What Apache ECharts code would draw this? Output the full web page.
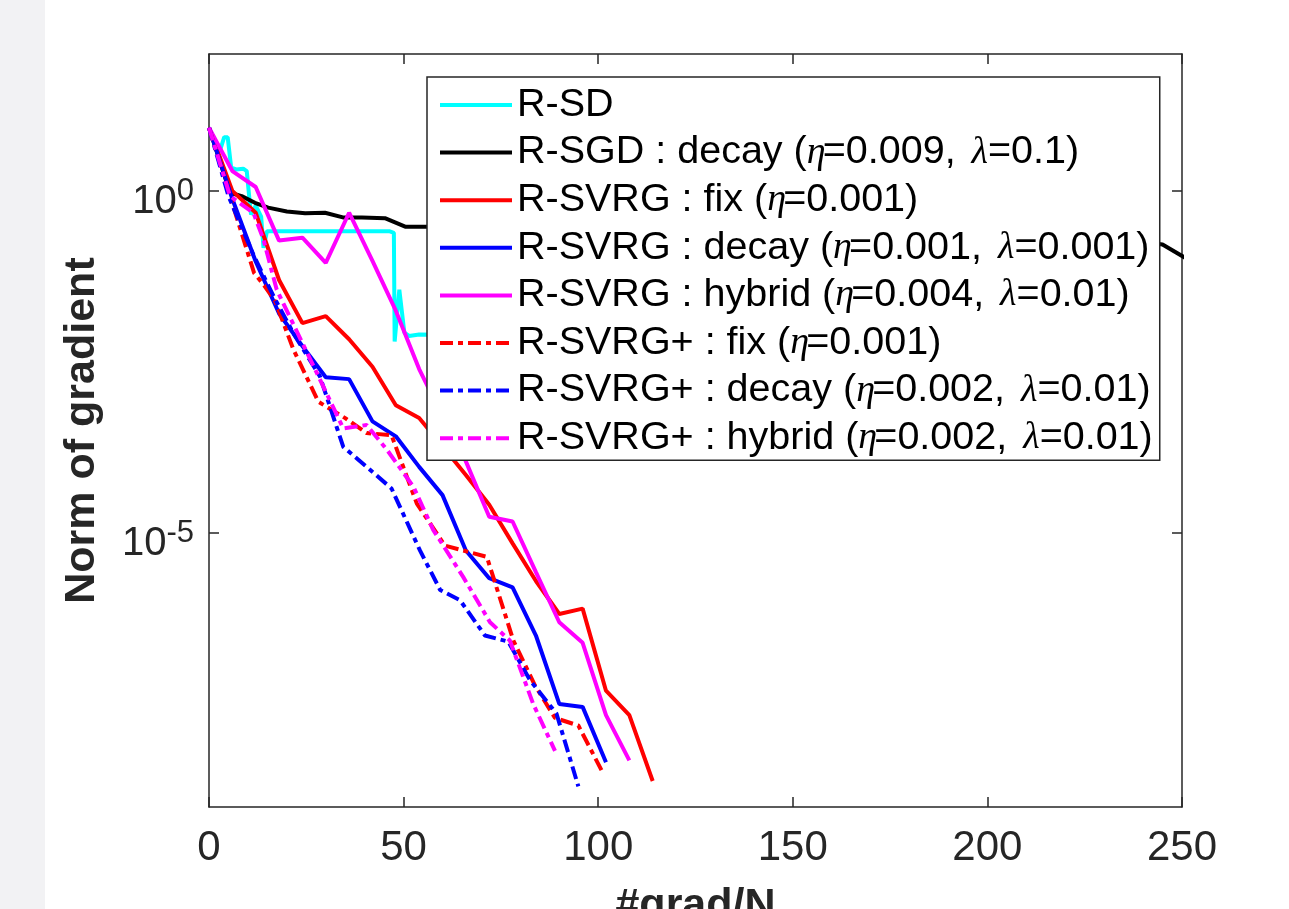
<!DOCTYPE html>
<html>
<head>
<meta charset="utf-8">
<script src="https://cdn.jsdelivr.net/npm/echarts@6/dist/echarts.min.js"></script>
<style>
html,body{margin:0;padding:0;background:#fff;}
#chart{width:1289px;height:909px;}
</style>
</head>
<body>
<div id="chart"></div>
<script>
// ---- data (x = #grad/N, y = norm of gradient) ----
const xTicks = [0, 50, 100, 150, 200, 250];
const yTickVals = [1e-5, 1];

const rsdX = [0, 2.8, 3.9, 4.8, 5.7, 7.0, 8.8, 9.7, 10.4, 10.8, 12.0, 13.4, 14.0, 14.9, 16, 46.3, 47.5, 47.7, 48.9, 50.2, 51.4, 54, 70, 90, 100];
const rsdY = [8.4, 3.83, 6.1, 6.1, 2.19, 2.06, 2.11, 1.95, 0.75, 0.45, 0.61, 0.42, 0.147, 0.258, 0.258, 0.258, 0.244, 0.0063, 0.036, 0.0085, 0.0076, 0.0080, 0.0078, 0.0075, 0.0074];

const sgdX = [0, 5.4, 8.4, 11.8, 15.2, 20, 24.7, 29.8, 34.4, 39.3, 45.2, 50.4, 56, 80, 100, 120, 140, 160, 180, 200, 220, 240, 245, 255];
const sgdY = [8.4, 0.94, 0.84, 0.67, 0.57, 0.50, 0.47, 0.48, 0.41, 0.41, 0.40, 0.30, 0.30, 0.28, 0.26, 0.25, 0.24, 0.23, 0.22, 0.21, 0.20, 0.18, 0.165, 0.076];

const svrgFixX = [0, 6, 12, 18, 24, 30, 36, 42, 48, 54, 60, 66, 72, 78, 84, 90, 96, 102, 108, 114];
const svrgFixY = [8.4, 1.0, 0.48, 0.050, 0.0117, 0.0148, 0.0068, 0.0027, 7.4e-4, 4.8e-4, 1.86e-4, 7.1e-5, 2.6e-5, 7.1e-6, 2.0e-6, 6.6e-7, 7.9e-7, 5.0e-8, 2.2e-8, 2.4e-9];

const svrgDecayX = [0, 6, 12, 18, 24, 30, 36, 42, 48, 54, 60, 66, 72, 78, 84, 90, 96, 102];
const svrgDecayY = [8.4, 0.76, 0.093, 0.0162, 5.4e-3, 1.9e-3, 1.78e-3, 4.3e-4, 2.6e-4, 9.3e-5, 3.6e-5, 5.6e-6, 2.2e-6, 1.62e-6, 3.2e-7, 3.2e-8, 2.9e-8, 4.5e-9];

const svrgHybX = [0, 6, 12, 18, 24, 30, 36, 42, 48, 54, 60, 66, 72, 78, 84, 90, 96, 102, 108];
const svrgHybY = [8.4, 1.95, 1.14, 0.188, 0.207, 0.089, 0.48, 0.095, 0.0178, 2.5e-3, 5.1e-4, 1.12e-4, 1.74e-5, 1.48e-5, 2.7e-6, 5.0e-7, 2.5e-7, 2.2e-8, 4.8e-9];

const plusFixX = [0, 5.4, 11.6, 14, 17, 21.7, 28.1, 35, 40.5, 46.9, 53.4, 60.6, 71.4, 78.2, 83.8, 88.9, 94.9, 100.9];
const plusFixY = [8.4, 0.84, 0.063, 0.043, 0.0245, 4.8e-3, 8.3e-4, 4.8e-4, 2.9e-4, 2.7e-4, 2.7e-5, 6.6e-6, 4.5e-6, 2.7e-7, 5.9e-8, 2.0e-8, 1.55e-8, 3.4e-9];

const plusDecayX = [0, 5, 11.4, 16.7, 21.7, 28.5, 34.5, 40.5, 46.9, 54.2, 59.4, 64.5, 70.9, 76.9, 82.5, 89.3, 94.9];
const plusDecayY = [8.4, 0.84, 0.117, 0.028, 8.3e-3, 1.95e-3, 1.82e-4, 9.3e-5, 4.5e-5, 5.6e-6, 1.48e-6, 1.05e-6, 3.2e-7, 2.6e-7, 7.1e-8, 2.3e-8, 2.0e-9];

const plusHybX = [0, 5.4, 11.4, 14, 17.4, 27.7, 34.5, 40.5, 45.7, 52.5, 57.6, 65.3, 72.2, 77.3, 83.3, 88.9];
const plusHybY = [8.4, 0.84, 0.48, 0.195, 0.036, 2.2e-3, 3.4e-4, 3.8e-4, 1.66e-4, 4.8e-5, 1.12e-5, 2.3e-6, 5.0e-7, 2.7e-7, 3.2e-8, 6.6e-9];

const names = [
  'R-SD',
  'R-SGD : decay (η=0.009, λ=0.1)',
  'R-SVRG : fix (η=0.001)',
  'R-SVRG : decay (η=0.001, λ=0.001)',
  'R-SVRG : hybrid (η=0.004, λ=0.01)',
  'R-SVRG+ : fix (η=0.001)',
  'R-SVRG+ : decay (η=0.002, λ=0.01)',
  'R-SVRG+ : hybrid (η=0.002, λ=0.01)'
];
const colors = ['#00ffff', '#000000', '#ff0000', '#0000ff', '#ff00ff', '#ff0000', '#0000ff', '#ff00ff'];
const dashed = [false, false, false, false, false, true, true, true];
const xs = [rsdX, sgdX, svrgFixX, svrgDecayX, svrgHybX, plusFixX, plusDecayX, plusHybX];
const ys = [rsdY, sgdY, svrgFixY, svrgDecayY, svrgHybY, plusFixY, plusDecayY, plusHybY];

const AX = '#262626';
const FONT = 'Liberation Sans, Arial, Helvetica, sans-serif';
const SERIF = 'Liberation Serif, DejaVu Serif, serif';

const series = names.map((n, i) => ({
  name: n,
  type: 'line',
  xAxisIndex: 0,
  yAxisIndex: 0,
  symbol: 'none',
  clip: true,
  color: colors[i],
  lineStyle: { color: colors[i], width: 4, type: dashed[i] ? [13, 5, 5, 5] : 'solid' },
  data: xs[i].map((x, k) => [x, ys[i][k]])
}));

const chart = echarts.init(document.getElementById('chart'), null, { renderer: 'canvas' });
chart.setOption({
  animation: false,
  backgroundColor: '#ffffff',
  graphic: [{ type: 'rect', left: 0, top: 0, shape: { width: 45, height: 909 }, style: { fill: '#f2f2f4' }, z: -10 }],
  grid: { left: 209, right: 107, top: 54, bottom: 102, outerBoundsMode: 'none', containLabel: false },
  xAxis: [
    {
      type: 'value', min: 0, max: 250, interval: 50, position: 'bottom',
      name: '#grad/N', nameLocation: 'middle', nameGap: 78,
      nameTextStyle: { fontSize: 43, fontWeight: 'bold', color: AX, fontFamily: FONT },
      axisLine: { show: true, onZero: false, lineStyle: { color: AX, width: 1.5 } },
      axisTick: { show: true, inside: true, length: 10, lineStyle: { color: AX, width: 1.5 } },
      axisLabel: { show: true, fontSize: 42, color: AX, fontFamily: FONT, margin: 20 },
      splitLine: { show: false }
    },
    {
      type: 'value', min: 0, max: 250, interval: 50, position: 'top',
      axisLine: { show: true, onZero: false, lineStyle: { color: AX, width: 1.5 } },
      axisTick: { show: true, inside: true, length: 10, lineStyle: { color: AX, width: 1.5 } },
      axisLabel: { show: false },
      splitLine: { show: false }
    }
  ],
  yAxis: [
    {
      type: 'log', logBase: 10, min: 1e-9, max: 100, position: 'left',
      name: 'Norm of gradient', nameLocation: 'middle', nameGap: 105, nameRotate: 90,
      nameTextStyle: { fontSize: 43, fontWeight: 'bold', color: AX, fontFamily: FONT },
      axisLine: { show: true, onZero: false, lineStyle: { color: AX, width: 1.5 } },
      axisTick: { show: true, inside: true, length: 10, customValues: yTickVals, lineStyle: { color: AX, width: 1.5 } },
      minorTick: { show: false },
      axisLabel: {
        show: true, margin: 15, customValues: yTickVals,
        padding: [16, 0, 0, 0],
        formatter: v => '{b|10}{s|' + Math.round(Math.log10(v)) + '}',
        rich: {
          b: { fontSize: 40, color: AX, fontFamily: FONT, lineHeight: 46, verticalAlign: 'bottom' },
          s: { fontSize: 31, color: AX, fontFamily: FONT, lineHeight: 10, verticalAlign: 'top' }
        }
      },
      splitLine: { show: false }
    },
    {
      type: 'log', logBase: 10, min: 1e-9, max: 100, position: 'right',
      axisLine: { show: true, onZero: false, lineStyle: { color: AX, width: 1.5 } },
      axisTick: { show: true, inside: true, length: 10, customValues: yTickVals, lineStyle: { color: AX, width: 1.5 } },
      minorTick: { show: false },
      axisLabel: { show: false },
      splitLine: { show: false }
    }
  ],
  legend: {
    orient: 'vertical', left: 427, top: 77,
    padding: [8, 7, 2, 11],
    itemWidth: 72, itemHeight: 20, itemGap: 7.6,
    backgroundColor: '#ffffff', borderColor: AX, borderWidth: 1.5, borderRadius: 0,
    selectedMode: false,
    itemStyle: { opacity: 0 },
    lineStyle: { width: 4 },
    data: names,
    formatter: n => n.replace(/η/g, '{e|η}').replace(/λ/g, '{l|λ}'),
    textStyle: {
      fontSize: 39.5, color: '#000', fontFamily: FONT, lineHeight: 40,
      rich: {
        e: { fontSize: 38, color: '#000', fontFamily: SERIF, fontStyle: 'italic', lineHeight: 40, width: 16 },
        l: { fontSize: 38, color: '#000', fontFamily: SERIF, fontStyle: 'italic', lineHeight: 40, padding: [0, 0, 0, 5] }
      }
    }
  },
  series: series
});
</script>
</body>
</html>
